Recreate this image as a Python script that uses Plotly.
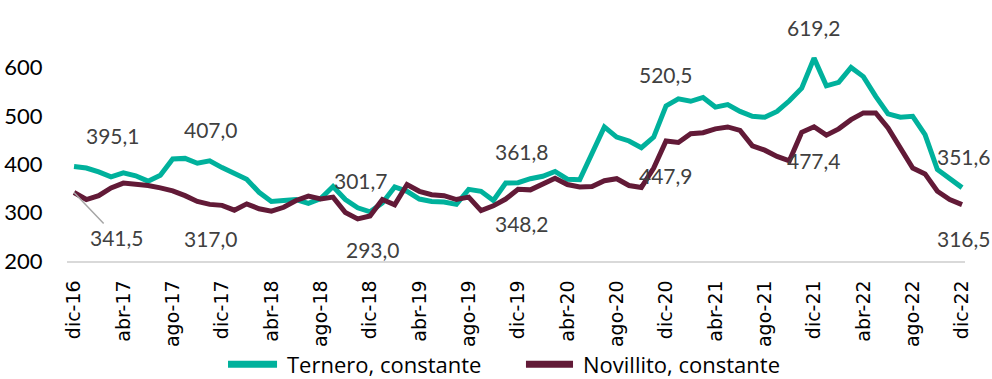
import plotly.graph_objects as go

# Monthly series, dic-16 .. dic-22 (73 months)
meses = ["ene", "feb", "mar", "abr", "may", "jun", "jul", "ago", "sep", "oct", "nov", "dic"]
periodos = ["dic-16"] + [f"{m}-{a}" for a in range(17, 23) for m in meses]

ternero = [
    395.1, 392, 384, 374, 382, 376, 365, 377, 411, 412, 402, 407.0,
    393, 381, 369, 342, 323, 325, 327, 319, 329, 354, 327, 310,
    301.7, 320, 353, 344, 328, 323, 322, 317, 348, 344, 325, 361,
    361.8, 370, 375, 385, 369, 368, 422, 477, 456, 448, 434, 456,
    520.5, 535, 530, 538, 518, 523, 509, 499, 497, 509, 531, 557,
    619.2, 562, 569, 600, 581, 540, 504, 497, 499, 461, 389, 370,
    351.6,
]
novillito = [
    341.5, 327, 335, 351, 361, 359, 356, 351, 345, 335, 323, 317.0,
    315, 305, 318, 308, 303, 311, 325, 334, 328, 332, 300, 287,
    293.0, 327, 316, 358, 344, 337, 335, 327, 332, 304, 314, 328,
    348.2, 347, 359, 371, 358, 353, 354, 366, 370, 356, 352, 392,
    447.9, 445, 463, 465, 473, 477, 470, 438, 429, 416, 407, 466,
    477.4, 460, 473, 492, 506, 506, 475, 433, 392, 380, 344, 327,
    316.5,
]

series = [
    ("Ternero, constante", ternero, "#00B19C"),
    ("Novillito, constante", novillito, "#621A37"),
]

# Labelled points: (month index, horizontal shift in px)
etiquetas_ternero = [(0, 39), (11, 1), (24, -9), (36, 4), (48, 0), (60, 0), (72, 2)]
etiquetas_novillito = [(11, 1), (24, 3), (36, 4), (48, 0), (60, 0), (72, 2)]

FONT = "Lato"
LABEL_COLOR = "#404040"

x_idx = list(range(len(periodos)))

fig = go.Figure()
for nombre, valores, color in series:
    fig.add_trace(go.Scatter(x=x_idx, y=valores, mode="lines", name=nombre,
                             line=dict(color=color, width=5), showlegend=False))


def fmt(v):
    return f"{v:.1f}".replace(".", ",")


anotaciones = []
for i, dx in etiquetas_ternero:
    anotaciones.append(dict(x=i, y=ternero[i], text=fmt(ternero[i]), showarrow=False,
                            xshift=dx, yshift=31,
                            font=dict(family=FONT, size=21, color=LABEL_COLOR)))
for i, dx in etiquetas_novillito:
    anotaciones.append(dict(x=i, y=novillito[i], text=fmt(novillito[i]), showarrow=False,
                            xshift=dx, yshift=-34,
                            font=dict(family=FONT, size=21, color=LABEL_COLOR)))
# first Novillito value, with a leader line
anotaciones.append(dict(x=0, y=novillito[0], text=fmt(novillito[0]), showarrow=True,
                        arrowhead=0, arrowwidth=1.5, arrowcolor="#A6A6A6",
                        ax=43, ay=45, standoff=0,
                        font=dict(family=FONT, size=21, color=LABEL_COLOR)))

# Legend drawn below the axis: swatch line + text per series
leyenda_y = -0.427
leyenda_pos = [(0.1793, 0.2339, 0.2428), (0.5111, 0.5635, 0.5724)]
formas = []
for (nombre, _, color), (x0, x1, xt) in zip(series, leyenda_pos):
    formas.append(dict(type="line", xref="paper", yref="paper", x0=x0, x1=x1,
                       y0=leyenda_y, y1=leyenda_y, line=dict(color=color, width=7)))
    anotaciones.append(dict(xref="paper", yref="paper", x=xt, y=leyenda_y, text=nombre,
                            xanchor="left", yanchor="middle", showarrow=False,
                            font=dict(family="Open Sans", size=22, color="#000000")))

tick_idx = list(range(0, len(periodos), 4))

fig.update_layout(
    width=992, height=379,
    margin=dict(l=67, r=27, t=19, b=117.5, autoexpand=False),
    paper_bgcolor="white", plot_bgcolor="white",
    font=dict(family=FONT, size=20, color="#000000"),
    showlegend=False,
    annotations=anotaciones,
    shapes=formas,
)
fig.update_xaxes(
    range=[-0.57, 72.24],
    tickmode="array", tickvals=tick_idx, ticktext=[periodos[i] for i in tick_idx],
    tickangle=-90, tickfont=dict(family="DejaVu Sans", size=19, color="#000000"),
    showgrid=False, zeroline=False,
    showline=True, linecolor="#D9D9D9", linewidth=1.5,
    ticks="outside", ticklen=10, tickcolor="rgba(0,0,0,0)",
    automargin=False,
)
fig.update_yaxes(
    range=[200, 700],
    tickmode="array", tickvals=[200, 300, 400, 500, 600],
    tickfont=dict(family=FONT, size=22, color="#000000"),
    showgrid=False, zeroline=False, showline=False,
    ticks="outside", ticklen=19, tickcolor="rgba(0,0,0,0)",
    automargin=False,
)

fig.write_html("out.html")
